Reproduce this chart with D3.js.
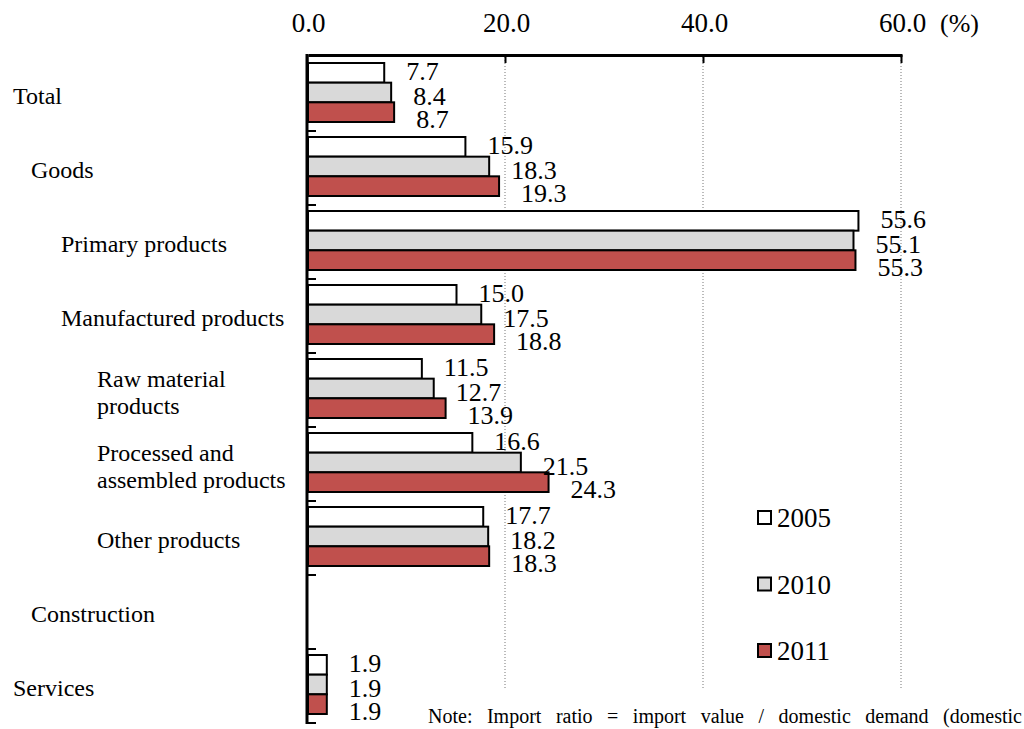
<!DOCTYPE html>
<html lang="en">
<head>
    <meta charset="UTF-8">
    <title>Import ratio by sector</title>
    <script src="https://d3js.org/d3.v7.min.js"></script>
    <style>
        body { margin: 0; background: #fff; }
        svg text { font-family: "Liberation Serif", "Times New Roman", serif; fill: #000; }
        .bar { stroke: #000; stroke-width: 2px; }
        .grid { stroke: #777; stroke-width: 1px; stroke-dasharray: 1,2; }
    </style>
</head>
<body>
    <svg class="chart"></svg>

    <script>
        // Chart data
        var categories = [
            ["Total"],
            ["Goods"],
            ["Primary products"],
            ["Manufactured products"],
            ["Raw material", "products"],
            ["Processed and", "assembled products"],
            ["Other products"],
            ["Construction"],
            ["Services"]
        ];
        // hierarchy level of each category (used for indentation)
        var levels = [0, 1, 2, 2, 3, 3, 3, 1, 0];

        var years = ["2005", "2010", "2011"];
        var values2005 = [7.7, 15.9, 55.6, 15.0, 11.5, 16.6, 17.7, null, 1.9];
        var values2010 = [8.4, 18.3, 55.1, 17.5, 12.7, 21.5, 18.2, null, 1.9];
        var values2011 = [8.7, 19.3, 55.3, 18.8, 13.9, 24.3, 18.3, null, 1.9];
        var seriesValues = [values2005, values2010, values2011];

        var xTicks = [0, 20, 40, 60];
        var noteText = "Note: Import ratio = import value / domestic demand (domestic";

        // Setup
        var width = 1024, height = 729;
        var colors = ["#ffffff", "#d9d9d9", "#c0504d"];
        var indent = [13, 31, 61, 97];

        var svg = d3.select(".chart")
            .attr("width", width)
            .attr("height", height);

        var x = d3.scaleLinear().domain([0, 60]).range([308, 902]);
        var y = d3.scaleBand().domain(d3.range(categories.length)).range([57, 723]);
        var inner = d3.scaleBand().domain(d3.range(years.length)).range([6, 65]);

        // gridlines
        svg.selectAll(".grid")
            .data(xTicks.filter(function(t) { return t > 0; }))
            .enter().append("line")
            .attr("class", "grid")
            .attr("x1", function(d) { return x(d) - 1; })
            .attr("x2", function(d) { return x(d) - 1; })
            .attr("y1", 57)
            .attr("y2", 688);

        // top axis
        var xAxis = d3.axisTop(x)
            .tickValues(xTicks)
            .tickSizeInner(-8)
            .tickSizeOuter(0)
            .tickFormat(d3.format(".1f"));
        var gx = svg.append("g")
            .attr("transform", "translate(0,55)")
            .call(xAxis);
        gx.select(".domain").attr("stroke", "#000").attr("stroke-width", 3);
        gx.selectAll(".tick line").attr("stroke", "#000").attr("stroke-width", 2)
            .attr("transform", "translate(-1,0)");
        gx.selectAll(".tick text")
            .attr("y", -23)
            .style("font-family", "'Liberation Serif', serif")
            .style("font-size", "27px");
        svg.append("text")
            .attr("x", 940).attr("y", 32)
            .style("font-size", "26px")
            .text("(%)");

        // bars
        years.forEach(function(year, s) {
            var vals = seriesValues[s];
            svg.append("g").selectAll("rect")
                .data(vals.map(function(v, i) { return { i: i, v: v }; })
                    .filter(function(d) { return d.v != null; }))
                .enter().append("rect")
                .attr("class", "bar")
                .attr("fill", colors[s])
                .attr("x", x(0))
                .attr("y", function(d) { return y(d.i) + inner(s); })
                .attr("width", function(d) { return x(d.v) - x(0); })
                .attr("height", inner.bandwidth());
        });

        // value labels
        var labelDy = [-2, 3, 7];
        years.forEach(function(year, s) {
            var vals = seriesValues[s];
            svg.append("g").selectAll("text")
                .data(vals.map(function(v, i) { return { i: i, v: v }; })
                    .filter(function(d) { return d.v != null; }))
                .enter().append("text")
                .attr("x", function(d) { return x(d.v) + 22; })
                .attr("y", function(d) { return y(d.i) + inner(s) + inner.bandwidth() / 2 + labelDy[s]; })
                .attr("dy", "0.35em")
                .style("font-size", "26px")
                .text(function(d) { return d3.format(".1f")(d.v); });
        });

        // left axis with category boundary ticks
        svg.append("line")
            .attr("x1", 307).attr("x2", 307)
            .attr("y1", 54).attr("y2", 724)
            .attr("stroke", "#000").attr("stroke-width", 3);
        svg.append("g").selectAll("line")
            .data(d3.range(1, categories.length + 1))
            .enter().append("line")
            .attr("x1", 307).attr("x2", 316)
            .attr("y1", function(i) { return y(0) + i * y.step(); })
            .attr("y2", function(i) { return y(0) + i * y.step(); })
            .attr("stroke", "#000").attr("stroke-width", 2);

        // category labels
        var catG = svg.append("g").selectAll("text")
            .data(categories)
            .enter().append("text")
            .attr("x", function(d, i) { return indent[levels[i]]; })
            .attr("y", function(d, i) { return y(i) + y.bandwidth() / 2 + 2; })
            .style("font-size", "24px");
        catG.each(function(lines) {
            var t = d3.select(this);
            lines.forEach(function(line, k) {
                t.append("tspan")
                    .attr("x", t.attr("x"))
                    .attr("dy", k === 0 ? (0.35 - (lines.length - 1) * 0.56) + "em" : "1.12em")
                    .text(line);
            });
        });

        // legend
        var legend = svg.append("g").selectAll("g")
            .data(years)
            .enter().append("g")
            .attr("transform", function(d, i) { return "translate(758," + (518 + i * 66.5) + ")"; });
        legend.append("rect")
            .attr("x", 0).attr("y", -7)
            .attr("width", 13).attr("height", 13)
            .attr("fill", function(d, i) { return colors[i]; })
            .attr("stroke", "#000").attr("stroke-width", 2);
        legend.append("text")
            .attr("x", 19).attr("y", 0)
            .attr("dy", "0.35em")
            .style("font-size", "27px")
            .text(function(d) { return d; });

        // note, spread across the bottom with word spacing
        var note = svg.append("text")
            .attr("x", 428).attr("y", 723)
            .style("font-size", "20px")
            .text(noteText);
        var natural = note.node().getComputedTextLength();
        var gaps = noteText.split(" ").length - 1;
        note.style("word-spacing", Math.max(0, (594 - natural) / gaps) + "px");
    </script>
</body>
</html>
